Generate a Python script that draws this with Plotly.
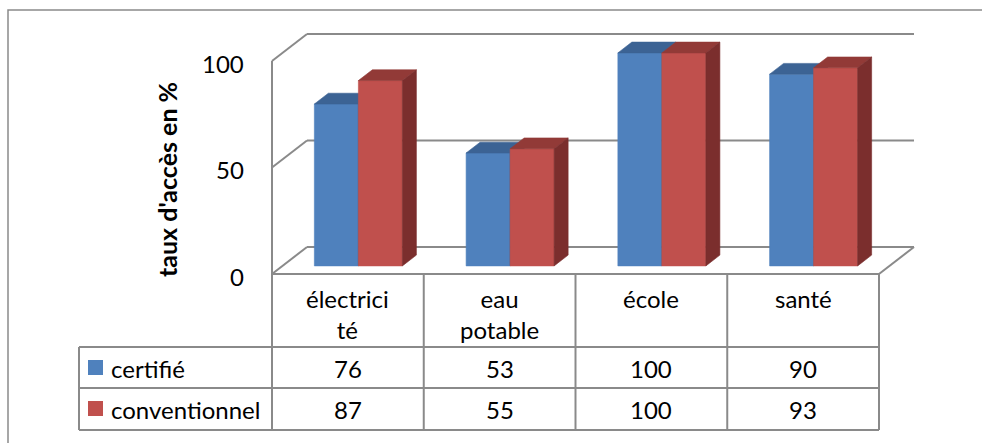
import plotly.graph_objects as go

# ---- data -------------------------------------------------------------
categories = ["électricité", "eau potable", "école", "santé"]
category_labels = ["électrici<br>té", "eau<br>potable", "école", "santé"]
series_names = ["certifié", "conventionnel"]
certifie = [76, 53, 100, 90]
conventionnel = [87, 55, 100, 93]
y_ticks = [0, 50, 100]
y_title = "taux d'accès en %"

series_values = [certifie, conventionnel]

# ---- geometry (pixel layout of the 3-D frame) ----------------------------
W, H = 982, 443
X0_PX = 272        # left edge of the front plane
CAT_PX = 151.75    # width of one category column
Y0_PX = 274        # value 0 on the front plane
PX_PER_UNIT = 2.13


def ux(px):
    return (px - X0_PX) / CAT_PX


def uy(py):
    return (Y0_PX - py) / PX_PER_UNIT


DX = 35 / CAT_PX          # depth offset of the floor / walls
DY = 27 / PX_PER_UNIT
BAR_FRONT = 0.30          # bar front face position within the depth
BAR_DEPTH = 0.40          # bar thickness as a share of the depth
BAR_W = 0.29              # bar width in category units
NCAT = len(categories)

face_colors = [
    dict(front="#4F81BD", top="#3C6394", side="#385D8A"),
    dict(front="#C0504D", top="#923A37", side="#7B2E2D"),
]
GRID = "#8A8A8A"
FONT = "Lato"
FS = 24

fig = go.Figure()


def poly(xs, ys, color):
    return go.Scatter(
        x=xs + [xs[0]], y=ys + [ys[0]], fill="toself", fillcolor=color,
        mode="lines", line=dict(color=color, width=0.6),
        hoverinfo="skip", showlegend=False,
    )


# ---- 3-D columns ------------------------------------------------------------
ddx, ddy = BAR_DEPTH * DX, BAR_DEPTH * DY
base = BAR_FRONT * DY
for i in range(NCAT):
    for k, values in enumerate(series_values):
        v = values[i]
        c = face_colors[k]
        x0 = i + 0.5 - BAR_W + k * BAR_W + BAR_FRONT * DX
        x1 = x0 + BAR_W
        top = base + v
        fig.add_trace(poly([x0, x1, x1, x0], [base, base, top, top], c["front"]))
        fig.add_trace(poly([x0, x1, x1 + ddx, x0 + ddx],
                           [top, top, top + ddy, top + ddy], c["top"]))
        fig.add_trace(poly([x1, x1 + ddx, x1 + ddx, x1],
                           [base, base + ddy, top + ddy, top], c["side"]))

# ---- walls, floor and gridlines -----------------------------------------
shapes = []


def seg(xa, ya, xb, yb, width=2, color=GRID):
    shapes.append(dict(type="line", xref="x", yref="y",
                       x0=xa, y0=ya, x1=xb, y1=yb, layer="below",
                       line=dict(color=color, width=width)))


for v in y_ticks:
    seg(0, v, DX, v + DY)
    seg(DX, v + DY, NCAT + DX, v + DY)
seg(0, 0, NCAT, 0)
seg(NCAT, 0, NCAT + DX, DY)
seg(0, 0, 0, max(y_ticks))

# ---- data table grid --------------------------------------------------------
row_lines = [347, 388, 430]
table_bottom = uy(row_lines[-1])
seg(0, 0, 0, table_bottom)
for i in range(1, NCAT + 1):
    seg(i, 0, i, table_bottom)
for py in row_lines:
    seg(ux(79), uy(py), NCAT, uy(py))
seg(ux(79), uy(row_lines[0]), ux(79), table_bottom)

# outer chart frame (left and top edges visible)
shapes.append(dict(type="rect", xref="paper", yref="paper",
                   x0=8 / W, y0=-0.1, x1=1.1, y1=1 - 10 / H, layer="below",
                   line=dict(color=GRID, width=1.5)))

# legend keys in the table
key_top = [360, 401]
for k in range(len(series_names)):
    shapes.append(dict(type="rect", xref="x", yref="y",
                       x0=ux(88), x1=ux(103), y0=uy(key_top[k]), y1=uy(key_top[k] + 15),
                       fillcolor=face_colors[k]["front"], line=dict(width=0)))

# ---- text ------------------------------------------------------------------
ann = []
txt = dict(family=FONT, size=FS, color="#000000")
for v in y_ticks:
    ann.append(dict(x=ux(246), y=v, xref="x", yref="y", text=str(v),
                    xanchor="right", yanchor="middle", yshift=-2,
                    showarrow=False, font=txt))
ann.append(dict(x=ux(167), y=uy(180), xref="x", yref="y", text="<b>%s</b>" % y_title,
                textangle=-90, xanchor="center", yanchor="middle",
                showarrow=False, font=dict(family=FONT, size=25, color="#000000")))
for i, lab in enumerate(category_labels):
    ann.append(dict(x=i + 0.5, y=uy(282), xref="x", yref="y", text=lab,
                    xanchor="center", yanchor="top", align="center",
                    showarrow=False, font=txt))
row_mid = [368, 409]
for k, values in enumerate(series_values):
    ann.append(dict(x=ux(109), y=uy(row_mid[k]), xref="x", yref="y",
                    text=series_names[k], xanchor="left", yanchor="middle",
                    showarrow=False, font=txt))
    for i, v in enumerate(values):
        ann.append(dict(x=i + 0.5, y=uy(row_mid[k]), xref="x", yref="y",
                        text=str(v), xanchor="center", yanchor="middle",
                        showarrow=False, font=txt))

fig.update_layout(
    width=W, height=H,
    margin=dict(l=0, r=0, t=0, b=0),
    paper_bgcolor="white", plot_bgcolor="white",
    showlegend=False,
    xaxis=dict(range=[ux(0), ux(W)], visible=False, fixedrange=True),
    yaxis=dict(range=[uy(H), uy(0)], visible=False, fixedrange=True),
    shapes=shapes, annotations=ann,
)

fig.write_html("out.html")
